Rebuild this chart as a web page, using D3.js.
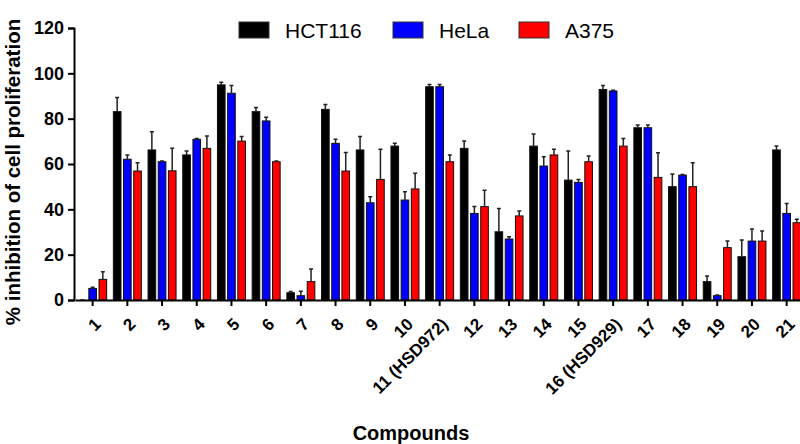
<!DOCTYPE html>
<html>
  <head>
    <meta charset="utf-8">
    <script src="https://cdn.jsdelivr.net/npm/d3@7"></script>
    <style>
      body { margin: 0; background: #fff; }
    </style>
  </head>
  <body>
    <script type="text/javascript">
      var w = 800;
      var h = 444;

      // Dados
      var compounds = ["1","2","3","4","5","6","7","8","9","10","11 (HSD972)","12","13","14","15","16 (HSD929)","17","18","19","20","21"];
      var cellLines = ["HCT116","HeLa","A375"];
      var colors = ["#000000","#0000ff","#ff0000"];
      var hct116 = [0, 83.1, 66.2, 64, 94.9, 83.1, 3.2, 84.1, 66.2, 67.9, 94.1, 66.9, 30.1, 67.9, 52.9, 92.9, 76, 50, 8.1, 19.1, 66.2];
      var hct116Err = [0, 6.2, 8, 1.7, 1.2, 1.8, 0.5, 2.2, 5.9, 1.2, 1, 3.2, 10.3, 5.3, 12.8, 1.7, 1.2, 5.6, 2.5, 7.4, 1.7];
      var hela = [5.1, 62.1, 61, 70.9, 91.2, 79, 1.9, 69.1, 42.9, 44.1, 94.1, 38.2, 26.9, 59.1, 51.9, 92.2, 76, 55.1, 1.9, 26, 38.2];
      var helaErr = [0.5, 1.9, 0.3, 0.3, 3.4, 1.6, 2, 1.8, 2.7, 3.7, 1, 3, 1, 4.1, 1.3, 0.3, 1.2, 0.3, 0.3, 5.3, 4.4];
      var a375 = [9.1, 56.9, 57, 66.9, 70.1, 61, 8.1, 56.9, 53.2, 49, 61, 41.2, 37.1, 64, 61, 67.9, 54.1, 50, 23.1, 26, 34.1];
      var a375Err = [3.4, 3.7, 10, 5.5, 2, 0.3, 5.6, 8.2, 13.3, 6.9, 3, 7.2, 2.2, 2.5, 2.5, 3.4, 10.9, 10.6, 2.9, 4.4, 1.5];
      var yTicks = [0, 20, 40, 60, 80, 100, 120];

      var series = [hct116, hela, a375];
      var errors = [hct116Err, helaErr, a375Err];

      var svg = d3.select("body")
                  .append("svg")
                    .attr("width", w)
                    .attr("height", h);

      var x = d3.scaleBand()
                .domain(compounds)
                .range([75.3, 804]);

      var xInner = d3.scaleBand()
                .domain(cellLines)
                .range([-14, 14])
                .paddingInner(0.25);

      var y = d3.scaleLinear()
                .domain([0, 120])
                .range([300, 28]);

      // Barras
      cellLines.forEach(function(name, s){
        var g = svg.append("g");
        g.selectAll("rect")
         .data(series[s])
         .enter()
         .append("rect")
           .attr("x", function(d, i){ return x(compounds[i]) + x.bandwidth()/2 + xInner(name); })
           .attr("y", function(d){ return y(d); })
           .attr("width", xInner.bandwidth())
           .attr("height", function(d){ return y(0) - y(d); })
           .attr("fill", colors[s])
           .attr("stroke", "#111")
           .attr("stroke-width", d => d > 0 ? 1 : 0);

        // Barras de erro (so para cima)
        g.selectAll("path")
         .data(series[s])
         .enter()
         .append("path")
           .attr("d", function(d, i){
             var cx = x(compounds[i]) + x.bandwidth()/2 + xInner(name) + xInner.bandwidth()/2;
             var top = y(d + errors[s][i]);
             return "M" + cx + "," + y(d) + "V" + top + "M" + (cx - 2) + "," + top + "H" + (cx + 2);
           })
           .attr("stroke", "#222")
           .attr("stroke-width", 1.5)
           .attr("fill", "none");
      });

      // Eixo Y
      var yAxis = svg.append("g")
         .attr("transform", "translate(74,0)")
         .call(d3.axisLeft(y).tickValues(yTicks).tickSize(6).tickPadding(4));
      yAxis.select(".domain").attr("stroke-width", 2);
      yAxis.selectAll(".tick line").attr("stroke-width", 2);
      yAxis.selectAll("text")
         .attr("font-family", "Liberation Sans, Arial, sans-serif")
         .attr("font-weight", "bold")
         .attr("font-size", 18)
         .attr("fill", "#000");

      // Eixo X
      var xAxis = svg.append("g")
         .attr("transform", "translate(0,300)")
         .call(d3.axisBottom(x).tickSize(6).tickSizeOuter(0).tickPadding(4));
      xAxis.select(".domain").attr("stroke-width", 2);
      xAxis.selectAll(".tick line").attr("stroke-width", 2);
      xAxis.selectAll("text")
         .attr("font-family", "Liberation Sans, Arial, sans-serif")
         .attr("font-weight", "bold")
         .attr("font-size", 17)
         .attr("fill", "#000")
         .attr("text-anchor", "end")
         .attr("dy", "0.35em")
         .attr("transform", "translate(-2,14) rotate(-45)");

      // Titulos
      svg.append("text")
         .text("% inhibition of cell proliferation")
         .attr("transform", "translate(20,172) rotate(-90)")
         .attr("text-anchor", "middle")
         .attr("font-family", "Liberation Sans, Arial, sans-serif")
         .attr("font-weight", "bold")
         .attr("font-size", 20.5);

      svg.append("text")
         .text("Compounds")
         .attr("x", 411)
         .attr("y", 440)
         .attr("text-anchor", "middle")
         .attr("font-family", "Liberation Sans, Arial, sans-serif")
         .attr("font-weight", "bold")
         .attr("font-size", 20);

      // Legenda
      var legendX = [239, 393, 519];
      var legend = svg.selectAll(".legend")
         .data(cellLines)
         .enter()
         .append("g")
           .attr("transform", function(d, i){ return "translate(" + legendX[i] + ",22)"; });
      legend.append("rect")
         .attr("width", 30)
         .attr("height", 16)
         .attr("fill", function(d, i){ return colors[i]; })
         .attr("stroke", "#333");
      legend.append("text")
         .text(function(d){ return d; })
         .attr("x", 46)
         .attr("y", 15.5)
         .attr("font-family", "Liberation Sans, Arial, sans-serif")
         .attr("font-size", 21);
    </script>
  </body>
</html>
